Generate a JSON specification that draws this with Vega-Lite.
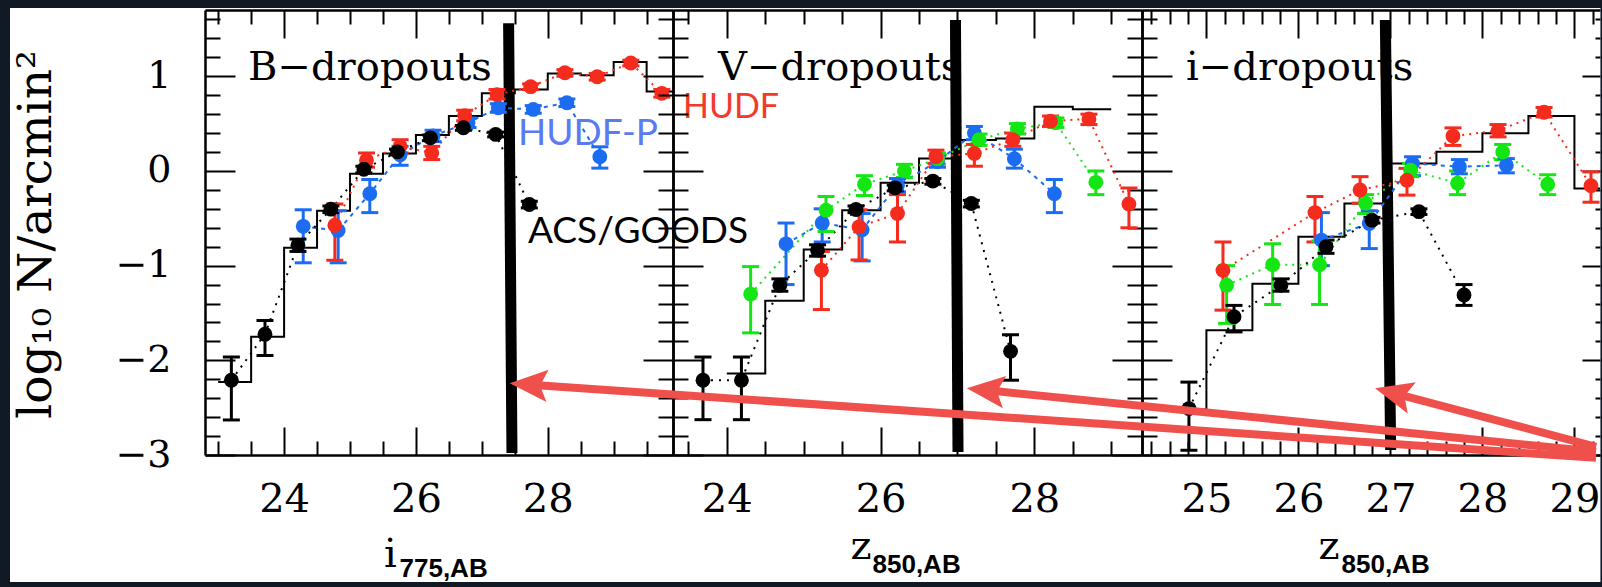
{
  "$schema": "https://vega.github.io/schema/vega-lite/v6.json",
  "background": "#111a24",
  "padding": {"left": 10, "top": 8, "right": 0, "bottom": 5},
  "spacing": 0,
  "bounds": "flush",
  "config": {
    "view": {"stroke": null},
    "axis": {"grid": false, "tickColor": "black", "tickWidth": 2, "domainColor": "black", "domainWidth": 2.5, "labelColor": "black", "titleColor": "black", "labelFont": "DejaVu Serif", "titleFont": "DejaVu Serif", "titleFontWeight": "normal", "labelFlush": false, "labelOverlap": false}
  },
  "datasets": {
    "pts": [
      {"p":1,"s":"HUDF-P","x":24.29,"y":-0.585,"lo":-0.97,"hi":-0.41},
      {"p":1,"s":"HUDF-P","x":24.82,"y":-0.63,"lo":-0.97,"hi":-0.42},
      {"p":1,"s":"HUDF-P","x":25.30,"y":-0.24,"lo":-0.44,"hi":-0.09},
      {"p":1,"s":"HUDF-P","x":25.76,"y":0.17,"lo":0.06,"hi":0.26},
      {"p":1,"s":"HUDF-P","x":26.26,"y":0.37,"lo":0.31,"hi":0.43},
      {"p":1,"s":"HUDF-P","x":26.79,"y":0.51,"lo":0.46,"hi":0.56},
      {"p":1,"s":"HUDF-P","x":27.25,"y":0.667,"lo":0.62,"hi":0.71},
      {"p":1,"s":"HUDF-P","x":27.78,"y":0.65,"lo":0.61,"hi":0.69},
      {"p":1,"s":"HUDF-P","x":28.29,"y":0.72,"lo":0.68,"hi":0.76},
      {"p":1,"s":"HUDF-P","x":28.79,"y":0.15,"lo":0.03,"hi":0.255},
      {"p":1,"s":"HUDF","x":24.77,"y":-0.573,"lo":-0.943,"hi":-0.35},
      {"p":1,"s":"HUDF","x":25.25,"y":0.114,"lo":0.04,"hi":0.19},
      {"p":1,"s":"HUDF","x":25.76,"y":0.26,"lo":0.19,"hi":0.33},
      {"p":1,"s":"HUDF","x":26.24,"y":0.19,"lo":0.12,"hi":0.26},
      {"p":1,"s":"HUDF","x":26.74,"y":0.585,"lo":0.53,"hi":0.64},
      {"p":1,"s":"HUDF","x":27.23,"y":0.807,"lo":0.76,"hi":0.86},
      {"p":1,"s":"HUDF","x":27.74,"y":0.89,"lo":0.86,"hi":0.92},
      {"p":1,"s":"HUDF","x":28.26,"y":1.037,"lo":1.0,"hi":1.07},
      {"p":1,"s":"HUDF","x":28.75,"y":0.995,"lo":0.96,"hi":1.03},
      {"p":1,"s":"HUDF","x":29.26,"y":1.14,"lo":1.11,"hi":1.17},
      {"p":1,"s":"HUDF","x":29.73,"y":0.82,"lo":0.78,"hi":0.86},
      {"p":1,"s":"ACS/GOODS","x":23.20,"y":-2.21,"lo":-2.63,"hi":-1.965},
      {"p":1,"s":"ACS/GOODS","x":23.71,"y":-1.725,"lo":-1.95,"hi":-1.58},
      {"p":1,"s":"ACS/GOODS","x":24.21,"y":-0.784,"lo":-0.85,"hi":-0.72},
      {"p":1,"s":"ACS/GOODS","x":24.71,"y":-0.404,"lo":-0.44,"hi":-0.37},
      {"p":1,"s":"ACS/GOODS","x":25.21,"y":0.018,"lo":-0.02,"hi":0.05},
      {"p":1,"s":"ACS/GOODS","x":25.72,"y":0.202,"lo":0.17,"hi":0.23},
      {"p":1,"s":"ACS/GOODS","x":26.22,"y":0.35,"lo":0.32,"hi":0.38},
      {"p":1,"s":"ACS/GOODS","x":26.72,"y":0.456,"lo":0.43,"hi":0.48},
      {"p":1,"s":"ACS/GOODS","x":27.21,"y":0.386,"lo":0.36,"hi":0.41},
      {"p":1,"s":"ACS/GOODS","x":27.72,"y":-0.354,"lo":-0.39,"hi":-0.32},
      {"p":2,"s":"HUDF-P","x":24.77,"y":-0.77,"lo":-1.2,"hi":-0.55},
      {"p":2,"s":"HUDF-P","x":25.24,"y":-0.55,"lo":-0.75,"hi":-0.4},
      {"p":2,"s":"HUDF-P","x":25.76,"y":-0.62,"lo":-0.95,"hi":-0.45},
      {"p":2,"s":"HUDF-P","x":26.22,"y":-0.15,"lo":-0.22,"hi":-0.08},
      {"p":2,"s":"HUDF-P","x":26.74,"y":0.1,"lo":0.04,"hi":0.16},
      {"p":2,"s":"HUDF-P","x":27.22,"y":0.4,"lo":0.33,"hi":0.47},
      {"p":2,"s":"HUDF-P","x":27.74,"y":0.13,"lo":0.03,"hi":0.23},
      {"p":2,"s":"HUDF-P","x":28.26,"y":-0.24,"lo":-0.44,"hi":-0.09},
      {"p":2,"s":"HUDF05","x":24.31,"y":-1.3,"lo":-1.71,"hi":-1.01},
      {"p":2,"s":"HUDF05","x":25.29,"y":-0.414,"lo":-0.64,"hi":-0.27},
      {"p":2,"s":"HUDF05","x":25.79,"y":-0.14,"lo":-0.26,"hi":-0.05},
      {"p":2,"s":"HUDF05","x":26.31,"y":0.0,"lo":-0.07,"hi":0.07},
      {"p":2,"s":"HUDF05","x":26.74,"y":0.13,"lo":0.07,"hi":0.19},
      {"p":2,"s":"HUDF05","x":27.28,"y":0.33,"lo":0.27,"hi":0.39},
      {"p":2,"s":"HUDF05","x":27.78,"y":0.445,"lo":0.39,"hi":0.5},
      {"p":2,"s":"HUDF05","x":28.28,"y":0.51,"lo":0.46,"hi":0.56},
      {"p":2,"s":"HUDF05","x":28.8,"y":-0.12,"lo":-0.25,"hi":0.0},
      {"p":2,"s":"HUDF","x":25.23,"y":-1.048,"lo":-1.464,"hi":-0.85},
      {"p":2,"s":"HUDF","x":25.72,"y":-0.59,"lo":-0.94,"hi":-0.41},
      {"p":2,"s":"HUDF","x":26.22,"y":-0.45,"lo":-0.75,"hi":-0.25},
      {"p":2,"s":"HUDF","x":26.72,"y":0.15,"lo":0.08,"hi":0.22},
      {"p":2,"s":"HUDF","x":27.22,"y":0.185,"lo":0.05,"hi":0.28},
      {"p":2,"s":"HUDF","x":27.72,"y":0.33,"lo":0.26,"hi":0.4},
      {"p":2,"s":"HUDF","x":28.21,"y":0.526,"lo":0.47,"hi":0.58},
      {"p":2,"s":"HUDF","x":28.71,"y":0.55,"lo":0.49,"hi":0.6},
      {"p":2,"s":"HUDF","x":29.23,"y":-0.35,"lo":-0.6,"hi":-0.18},
      {"p":2,"s":"ACS/GOODS","x":23.69,"y":-2.21,"lo":-2.627,"hi":-1.965},
      {"p":2,"s":"ACS/GOODS","x":24.19,"y":-2.21,"lo":-2.627,"hi":-1.965},
      {"p":2,"s":"ACS/GOODS","x":24.69,"y":-1.207,"lo":-1.27,"hi":-1.14},
      {"p":2,"s":"ACS/GOODS","x":25.18,"y":-0.837,"lo":-0.9,"hi":-0.78},
      {"p":2,"s":"ACS/GOODS","x":25.68,"y":-0.407,"lo":-0.44,"hi":-0.37},
      {"p":2,"s":"ACS/GOODS","x":26.19,"y":-0.178,"lo":-0.21,"hi":-0.15},
      {"p":2,"s":"ACS/GOODS","x":26.68,"y":-0.107,"lo":-0.14,"hi":-0.08},
      {"p":2,"s":"ACS/GOODS","x":27.18,"y":-0.344,"lo":-0.38,"hi":-0.31},
      {"p":2,"s":"ACS/GOODS","x":27.69,"y":-1.905,"lo":-2.21,"hi":-1.73},
      {"p":3,"s":"HUDF-P","x":26.25,"y":-0.73,"lo":-1.0,"hi":-0.44},
      {"p":3,"s":"HUDF-P","x":26.77,"y":-0.555,"lo":-0.82,"hi":-0.42},
      {"p":3,"s":"HUDF-P","x":27.24,"y":0.08,"lo":-0.05,"hi":0.15},
      {"p":3,"s":"HUDF-P","x":27.75,"y":0.045,"lo":-0.03,"hi":0.12},
      {"p":3,"s":"HUDF-P","x":28.26,"y":0.06,"lo":-0.02,"hi":0.13},
      {"p":3,"s":"HUDF05","x":25.22,"y":-1.207,"lo":-1.61,"hi":-1.0},
      {"p":3,"s":"HUDF05","x":25.72,"y":-0.99,"lo":-1.41,"hi":-0.77},
      {"p":3,"s":"HUDF05","x":26.23,"y":-0.99,"lo":-1.41,"hi":-0.74},
      {"p":3,"s":"HUDF05","x":26.73,"y":-0.34,"lo":-0.45,"hi":-0.25},
      {"p":3,"s":"HUDF05","x":27.22,"y":0.008,"lo":-0.06,"hi":0.08},
      {"p":3,"s":"HUDF05","x":27.73,"y":-0.13,"lo":-0.25,"hi":0.0},
      {"p":3,"s":"HUDF05","x":28.22,"y":0.2,"lo":0.12,"hi":0.28},
      {"p":3,"s":"HUDF05","x":28.71,"y":-0.14,"lo":-0.25,"hi":-0.04},
      {"p":3,"s":"HUDF","x":25.18,"y":-1.05,"lo":-1.47,"hi":-0.75},
      {"p":3,"s":"HUDF","x":26.18,"y":-0.44,"lo":-0.75,"hi":-0.27},
      {"p":3,"s":"HUDF","x":26.67,"y":-0.2,"lo":-0.34,"hi":-0.06},
      {"p":3,"s":"HUDF","x":27.18,"y":-0.097,"lo":-0.255,"hi":0.027},
      {"p":3,"s":"HUDF","x":27.68,"y":0.368,"lo":0.27,"hi":0.455},
      {"p":3,"s":"HUDF","x":28.17,"y":0.425,"lo":0.36,"hi":0.49},
      {"p":3,"s":"HUDF","x":28.67,"y":0.62,"lo":0.57,"hi":0.67},
      {"p":3,"s":"HUDF","x":29.18,"y":-0.155,"lo":-0.33,"hi":-0.01},
      {"p":3,"s":"ACS/GOODS","x":24.81,"y":-2.51,"lo":-2.95,"hi":-2.23},
      {"p":3,"s":"ACS/GOODS","x":25.3,"y":-1.54,"lo":-1.7,"hi":-1.42},
      {"p":3,"s":"ACS/GOODS","x":25.81,"y":-1.207,"lo":-1.27,"hi":-1.14},
      {"p":3,"s":"ACS/GOODS","x":26.3,"y":-0.8,"lo":-0.87,"hi":-0.73},
      {"p":3,"s":"ACS/GOODS","x":26.8,"y":-0.52,"lo":-0.55,"hi":-0.49},
      {"p":3,"s":"ACS/GOODS","x":27.31,"y":-0.43,"lo":-0.46,"hi":-0.4},
      {"p":3,"s":"ACS/GOODS","x":27.8,"y":-1.31,"lo":-1.42,"hi":-1.2}
    ],
    "hist": [
      {"p":1,"x":23.0,"y":-2.23},{"p":1,"x":23.5,"y":-1.75},{"p":1,"x":24.0,"y":-0.81},{"p":1,"x":24.5,"y":-0.42},
      {"p":1,"x":25.0,"y":-0.03},{"p":1,"x":25.5,"y":0.185},{"p":1,"x":26.0,"y":0.38},{"p":1,"x":26.5,"y":0.58},
      {"p":1,"x":27.0,"y":0.82},{"p":1,"x":27.5,"y":0.86},{"p":1,"x":28.0,"y":1.03},{"p":1,"x":28.5,"y":1.01},
      {"p":1,"x":29.0,"y":1.15},{"p":1,"x":29.5,"y":0.84},{"p":1,"x":29.9,"y":0.84},
      {"p":2,"x":24.0,"y":-2.14},{"p":2,"x":24.5,"y":-1.37},{"p":2,"x":25.0,"y":-0.83},{"p":2,"x":25.5,"y":-0.414},
      {"p":2,"x":26.0,"y":-0.125},{"p":2,"x":26.5,"y":0.132},{"p":2,"x":27.0,"y":0.326},{"p":2,"x":27.5,"y":0.344},
      {"p":2,"x":28.0,"y":0.678},{"p":2,"x":28.5,"y":0.653},{"p":2,"x":29.0,"y":0.653},
      {"p":3,"x":24.75,"y":-2.52},{"p":3,"x":25.0,"y":-1.683},{"p":3,"x":25.5,"y":-1.19},{"p":3,"x":26.0,"y":-0.696},
      {"p":3,"x":26.5,"y":-0.343},{"p":3,"x":27.0,"y":0.079},{"p":3,"x":27.5,"y":0.202},{"p":3,"x":28.0,"y":0.397},
      {"p":3,"x":28.5,"y":0.58},{"p":3,"x":29.0,"y":-0.185},{"p":3,"x":29.278,"y":-0.185}
    ],
    "vlines": [
      {"p":1,"x":27.406,"x2":27.457,"y":1.56,"y2":-2.979},
      {"p":2,"x":26.974,"x2":27.007,"y":1.594,"y2":-2.968},
      {"p":3,"x":26.945,"x2":27.003,"y":1.594,"y2":-2.947}
    ],
    "notes": [
      {"label":"HUDF","x":30.052,"y":0.56},
      {"label":"HUDF-P","x":27.549,"y":0.274},
      {"label":"ACS/GOODS","x":27.7,"y":-0.761}
    ],
    "arrows": [
      {"a":1,"x":29.235,"y":-3.03,"bx":17.73,"by":-2.263,"px":17.427,"py":-2.243,"ang":3.9},
      {"a":2,"x":29.235,"y":-2.966,"bx":22.698,"by":-2.325,"px":22.395,"py":-2.296,"ang":5.75},
      {"a":3,"x":29.235,"y":-2.913,"bx":27.127,"by":-2.37,"px":26.833,"py":-2.296,"ang":14.7}
    ]
  },
  "hconcat": [
    {
      "width": 468, "height": 445,
      "title": {"text": "B−dropouts", "orient": "top", "anchor": "start", "frame": "group", "offset": -112, "dx": 43, "baseline": "alphabetic", "font": "DejaVu Serif", "fontSize": 40, "fontWeight": "normal", "color": "black", "zindex": 1},
      "layer": [
        {"data": {"values": [{}]}, "mark": {"type": "rect", "color": "white", "clip": false},
         "encoding": {"x": {"datum": 19.842, "type": "quantitative", "scale": {"domain": [22.8, 29.9], "nice": false, "zero": false}, "axis": null}, "x2": {"datum": 43.97}, "y": {"datum": -4.3414, "type": "quantitative", "scale": {"domain": [-3, 1.7], "nice": false, "zero": false}, "axis": null}, "y2": {"datum": 1.7211}}},
        {"data": {"name": "hist"}, "transform": [{"filter": "datum.p == 1"}], "mark": {"type": "line", "interpolate": "step-after", "color": "black", "strokeWidth": 2},
         "encoding": {
           "x": {"field": "x", "type": "quantitative", "scale": {"domain": [22.8, 29.9], "nice": false, "zero": false},
                 "axis": {"orient": "bottom", "values": [23,23.5,24,24.5,25,25.5,26,26.5,27,27.5,28,28.5,29,29.5], "tickSize": {"condition": {"test": "datum.value % 2 === 0", "value": -28}, "value": -14}, "labels": false, "title": "i", "titleFontSize": 40, "titleX": 185, "titleY": 111, "titleAlign": "center", "titleBaseline": "alphabetic", "zindex": 1}},
           "y": {"field": "y", "type": "quantitative", "scale": {"domain": [-3, 1.7], "nice": false, "zero": false},
                 "axis": {"orient": "left", "values": [-3,-2.8,-2.6,-2.4,-2.2,-2,-1.8,-1.6,-1.4,-1.2,-1,-0.8,-0.6,-0.4,-0.2,0,0.2,0.4,0.6,0.8,1,1.2,1.4,1.6], "tickSize": {"condition": {"test": "datum.value % 1 === 0", "value": -30}, "value": -15}, "labels": false, "title": "log₁₀ N/arcmin²", "titleFontSize": 47, "titleX": -155, "titleY": 224, "titleAngle": 270, "titleAlign": "center", "titleBaseline": "alphabetic", "zindex": 1}}
         }},
        {"data": {"name": "vlines"}, "transform": [{"filter": "datum.p == 1"}], "mark": {"type": "rule", "color": "black", "strokeWidth": 11},
         "encoding": {
           "x": {"field": "x", "type": "quantitative", "scale": {"domain": [22.8, 29.9], "nice": false, "zero": false},
                 "axis": {"orient": "top", "values": [23,23.5,24,24.5,25,25.5,26,26.5,27,27.5,28,28.5,29,29.5], "tickSize": {"condition": {"test": "datum.value % 2 === 0", "value": -28}, "value": -14}, "labels": false, "title": null, "zindex": 1}},
           "x2": {"field": "x2"},
           "y": {"field": "y", "type": "quantitative", "scale": {"domain": [-3, 1.7], "nice": false, "zero": false},
                 "axis": {"orient": "right", "values": [-3,-2.8,-2.6,-2.4,-2.2,-2,-1.8,-1.6,-1.4,-1.2,-1,-0.8,-0.6,-0.4,-0.2,0,0.2,0.4,0.6,0.8,1,1.2,1.4,1.6], "tickSize": {"condition": {"test": "datum.value % 1 === 0", "value": -30}, "value": -15}, "labels": false, "title": null, "zindex": 1}},
           "y2": {"field": "y2"}
         }},
        {"data": {"name": "pts"}, "transform": [{"filter": "datum.p == 1"}], "mark": {"type": "line", "strokeWidth": 2},
         "encoding": {"x": {"field": "x", "type": "quantitative", "axis": null}, "y": {"field": "y", "type": "quantitative", "axis": null},
           "color": {"field": "s", "type": "nominal", "scale": {"domain": ["HUDF-P","HUDF05","HUDF","ACS/GOODS"], "range": ["#1c6cf2","#14e614","#f42b1d","#000000"]}, "legend": null},
           "strokeDash": {"field": "s", "type": "nominal", "scale": {"domain": ["HUDF-P","HUDF05","HUDF","ACS/GOODS"], "range": [[4,5],[2,5],[2,5],[2,6]]}, "legend": null}}},
        {"data": {"name": "pts"}, "transform": [{"filter": "datum.p == 1"}], "mark": {"type": "rule", "strokeWidth": 3},
         "encoding": {"x": {"field": "x", "type": "quantitative", "axis": null}, "y": {"field": "lo", "type": "quantitative", "axis": null}, "y2": {"field": "hi"},
           "color": {"field": "s", "type": "nominal", "legend": null}}},
        {"data": {"name": "pts"}, "transform": [{"filter": "datum.p == 1"}], "mark": {"type": "tick", "orient": "horizontal", "thickness": 3, "size": 17, "opacity": 1},
         "encoding": {"x": {"field": "x", "type": "quantitative", "axis": null}, "y": {"field": "lo", "type": "quantitative", "axis": null}, "color": {"field": "s", "type": "nominal", "legend": null}}},
        {"data": {"name": "pts"}, "transform": [{"filter": "datum.p == 1"}], "mark": {"type": "tick", "orient": "horizontal", "thickness": 3, "size": 17, "opacity": 1},
         "encoding": {"x": {"field": "x", "type": "quantitative", "axis": null}, "y": {"field": "hi", "type": "quantitative", "axis": null}, "color": {"field": "s", "type": "nominal", "legend": null}}},
        {"data": {"name": "pts"}, "transform": [{"filter": "datum.p == 1"}], "mark": {"type": "circle", "size": 220, "opacity": 1},
         "encoding": {"x": {"field": "x", "type": "quantitative",
                 "axis": {"orient": "bottom", "values": [24, 26, 28], "format": "d", "ticks": false, "tickSize": 0, "domain": false, "labelFontSize": 40, "labelPadding": 56.7, "labelBaseline": "alphabetic", "title": "775,AB", "titleFont": "Liberation Sans", "titleFontWeight": "bold", "titleFontSize": 26, "titleX": 194, "titleY": 121, "titleAlign": "left", "titleBaseline": "alphabetic", "zindex": 1}},
           "y": {"field": "y", "type": "quantitative",
                 "axis": {"orient": "left", "values": [-3, -2, -1, 0, 1], "format": "d", "ticks": false, "tickSize": 0, "domain": false, "labelFontSize": 38, "labelPadding": 34, "title": null, "zindex": 1}},
           "color": {"field": "s", "type": "nominal", "legend": null}}},
        {"data": {"name": "notes"}, "transform": [{"filter": "datum.label == 'HUDF'"}], "mark": {"type": "text", "font": "Lato", "fontSize": 34, "align": "left", "baseline": "alphabetic", "clip": false, "color": "#f23a2c"},
         "encoding": {"x": {"field": "x", "type": "quantitative", "axis": null}, "y": {"field": "y", "type": "quantitative", "axis": null}, "text": {"field": "label"}}},
        {"data": {"name": "notes"}, "transform": [{"filter": "datum.label == 'HUDF-P'"}], "mark": {"type": "text", "font": "Lato", "fontSize": 37, "align": "left", "baseline": "alphabetic", "clip": false, "color": "#5a7bf2"},
         "encoding": {"x": {"field": "x", "type": "quantitative", "axis": null}, "y": {"field": "y", "type": "quantitative", "axis": null}, "text": {"field": "label"}}},
        {"data": {"name": "notes"}, "transform": [{"filter": "datum.label == 'ACS/GOODS'"}], "mark": {"type": "text", "font": "Lato", "fontSize": 37, "align": "left", "baseline": "alphabetic", "clip": false, "color": "#000000"},
         "encoding": {"x": {"field": "x", "type": "quantitative", "axis": null}, "y": {"field": "y", "type": "quantitative", "axis": null}, "text": {"field": "label"}}}
      ],
      "resolve": {"axis": {"x": "independent", "y": "independent"}}
    },
    {
      "width": 469, "height": 445,
      "title": {"text": "V−dropouts", "orient": "top", "anchor": "start", "frame": "group", "offset": -111, "dx": 45, "baseline": "alphabetic", "font": "DejaVu Serif", "fontSize": 40, "fontWeight": "normal", "color": "black"},
      "layer": [
        {"data": {"name": "hist"}, "transform": [{"filter": "datum.p == 2"}], "mark": {"type": "line", "interpolate": "step-after", "color": "black", "strokeWidth": 2},
         "encoding": {
           "x": {"field": "x", "type": "quantitative", "scale": {"domain": [23.3, 29.4], "nice": false, "zero": false},
                 "axis": {"orient": "bottom", "values": [23.5,24,24.5,25,25.5,26,26.5,27,27.5,28,28.5,29], "tickSize": {"condition": {"test": "datum.value % 2 === 0", "value": -28}, "value": -14}, "labels": false, "title": "z", "titleFontSize": 40, "titleX": 177, "titleY": 103, "titleAlign": "left", "titleBaseline": "alphabetic"}},
           "y": {"field": "y", "type": "quantitative", "scale": {"domain": [-3, 1.7], "nice": false, "zero": false},
                 "axis": {"orient": "left", "values": [-3,-2.8,-2.6,-2.4,-2.2,-2,-1.8,-1.6,-1.4,-1.2,-1,-0.8,-0.6,-0.4,-0.2,0,0.2,0.4,0.6,0.8,1,1.2,1.4,1.6], "tickSize": {"condition": {"test": "datum.value % 1 === 0", "value": -30}, "value": -15}, "labels": false, "title": null}}
         }},
        {"data": {"name": "vlines"}, "transform": [{"filter": "datum.p == 2"}], "mark": {"type": "rule", "color": "black", "strokeWidth": 11},
         "encoding": {
           "x": {"field": "x", "type": "quantitative", "scale": {"domain": [23.3, 29.4], "nice": false, "zero": false},
                 "axis": {"orient": "top", "values": [23.5,24,24.5,25,25.5,26,26.5,27,27.5,28,28.5,29], "tickSize": {"condition": {"test": "datum.value % 2 === 0", "value": -28}, "value": -14}, "labels": false, "title": null}},
           "x2": {"field": "x2"},
           "y": {"field": "y", "type": "quantitative", "scale": {"domain": [-3, 1.7], "nice": false, "zero": false},
                 "axis": {"orient": "right", "values": [-3,-2.8,-2.6,-2.4,-2.2,-2,-1.8,-1.6,-1.4,-1.2,-1,-0.8,-0.6,-0.4,-0.2,0,0.2,0.4,0.6,0.8,1,1.2,1.4,1.6], "tickSize": {"condition": {"test": "datum.value % 1 === 0", "value": -30}, "value": -15}, "labels": false, "title": null}},
           "y2": {"field": "y2"}
         }},
        {"data": {"name": "pts"}, "transform": [{"filter": "datum.p == 2"}], "mark": {"type": "line", "strokeWidth": 2},
         "encoding": {"x": {"field": "x", "type": "quantitative", "axis": null}, "y": {"field": "y", "type": "quantitative", "axis": null},
           "color": {"field": "s", "type": "nominal", "scale": {"domain": ["HUDF-P","HUDF05","HUDF","ACS/GOODS"], "range": ["#1c6cf2","#14e614","#f42b1d","#000000"]}, "legend": null},
           "strokeDash": {"field": "s", "type": "nominal", "scale": {"domain": ["HUDF-P","HUDF05","HUDF","ACS/GOODS"], "range": [[4,5],[2,5],[2,5],[2,6]]}, "legend": null}}},
        {"data": {"name": "pts"}, "transform": [{"filter": "datum.p == 2"}], "mark": {"type": "rule", "strokeWidth": 3},
         "encoding": {"x": {"field": "x", "type": "quantitative", "axis": null}, "y": {"field": "lo", "type": "quantitative", "axis": null}, "y2": {"field": "hi"},
           "color": {"field": "s", "type": "nominal", "legend": null}}},
        {"data": {"name": "pts"}, "transform": [{"filter": "datum.p == 2"}], "mark": {"type": "tick", "orient": "horizontal", "thickness": 3, "size": 17, "opacity": 1},
         "encoding": {"x": {"field": "x", "type": "quantitative", "axis": null}, "y": {"field": "lo", "type": "quantitative", "axis": null}, "color": {"field": "s", "type": "nominal", "legend": null}}},
        {"data": {"name": "pts"}, "transform": [{"filter": "datum.p == 2"}], "mark": {"type": "tick", "orient": "horizontal", "thickness": 3, "size": 17, "opacity": 1},
         "encoding": {"x": {"field": "x", "type": "quantitative", "axis": null}, "y": {"field": "hi", "type": "quantitative", "axis": null}, "color": {"field": "s", "type": "nominal", "legend": null}}},
        {"data": {"name": "pts"}, "transform": [{"filter": "datum.p == 2"}], "mark": {"type": "circle", "size": 220, "opacity": 1},
         "encoding": {"x": {"field": "x", "type": "quantitative",
                 "axis": {"orient": "bottom", "values": [24, 26, 28], "format": "d", "ticks": false, "tickSize": 0, "domain": false, "labelFontSize": 40, "labelPadding": 56.7, "labelBaseline": "alphabetic", "title": "850,AB", "titleFont": "Liberation Sans", "titleFontWeight": "bold", "titleFontSize": 26, "titleX": 199, "titleY": 117, "titleAlign": "left", "titleBaseline": "alphabetic"}},
           "y": {"field": "y", "type": "quantitative", "axis": null}, "color": {"field": "s", "type": "nominal", "legend": null}}}
      ],
      "resolve": {"axis": {"x": "independent", "y": "independent"}}
    },
    {
      "width": 458, "height": 445,
      "title": {"text": "i−dropouts", "orient": "top", "anchor": "start", "frame": "group", "offset": -111, "dx": 44, "baseline": "alphabetic", "font": "DejaVu Serif", "fontSize": 40, "fontWeight": "normal", "color": "black"},
      "layer": [
        {"data": {"name": "hist"}, "transform": [{"filter": "datum.p == 3"}], "mark": {"type": "line", "interpolate": "step-after", "color": "black", "strokeWidth": 2},
         "encoding": {
           "x": {"field": "x", "type": "quantitative", "scale": {"domain": [24.3, 29.278], "nice": false, "zero": false},
                 "axis": {"orient": "bottom", "values": [24.4,24.6,24.8,25,25.2,25.4,25.6,25.8,26,26.2,26.4,26.6,26.8,27,27.2,27.4,27.6,27.8,28,28.2,28.4,28.6,28.8,29,29.2], "tickSize": {"condition": {"test": "datum.value % 1 === 0", "value": -28}, "value": -14}, "labels": false, "title": "z", "titleFontSize": 40, "titleX": 176, "titleY": 103, "titleAlign": "left", "titleBaseline": "alphabetic"}},
           "y": {"field": "y", "type": "quantitative", "scale": {"domain": [-3, 1.7], "nice": false, "zero": false},
                 "axis": {"orient": "left", "values": [-3,-2.8,-2.6,-2.4,-2.2,-2,-1.8,-1.6,-1.4,-1.2,-1,-0.8,-0.6,-0.4,-0.2,0,0.2,0.4,0.6,0.8,1,1.2,1.4,1.6], "tickSize": {"condition": {"test": "datum.value % 1 === 0", "value": -30}, "value": -15}, "labels": false, "title": null}}
         }},
        {"data": {"name": "vlines"}, "transform": [{"filter": "datum.p == 3"}], "mark": {"type": "rule", "color": "black", "strokeWidth": 11},
         "encoding": {
           "x": {"field": "x", "type": "quantitative", "scale": {"domain": [24.3, 29.278], "nice": false, "zero": false},
                 "axis": {"orient": "top", "values": [24.4,24.6,24.8,25,25.2,25.4,25.6,25.8,26,26.2,26.4,26.6,26.8,27,27.2,27.4,27.6,27.8,28,28.2,28.4,28.6,28.8,29,29.2], "tickSize": {"condition": {"test": "datum.value % 1 === 0", "value": -28}, "value": -14}, "labels": false, "title": null}},
           "x2": {"field": "x2"},
           "y": {"field": "y", "type": "quantitative", "scale": {"domain": [-3, 1.7], "nice": false, "zero": false},
                 "axis": {"orient": "right", "domain": false, "values": [-3,-2.8,-2.6,-2.4,-2.2,-2,-1.8,-1.6,-1.4,-1.2,-1,-0.8,-0.6,-0.4,-0.2,0,0.2,0.4,0.6,0.8,1,1.2,1.4,1.6], "tickSize": {"condition": {"test": "datum.value % 1 === 0", "value": -18}, "value": -5}, "labels": false, "title": null}},
           "y2": {"field": "y2"}
         }},
        {"data": {"name": "pts"}, "transform": [{"filter": "datum.p == 3"}], "mark": {"type": "line", "strokeWidth": 2},
         "encoding": {"x": {"field": "x", "type": "quantitative", "axis": null}, "y": {"field": "y", "type": "quantitative", "axis": null},
           "color": {"field": "s", "type": "nominal", "scale": {"domain": ["HUDF-P","HUDF05","HUDF","ACS/GOODS"], "range": ["#1c6cf2","#14e614","#f42b1d","#000000"]}, "legend": null},
           "strokeDash": {"field": "s", "type": "nominal", "scale": {"domain": ["HUDF-P","HUDF05","HUDF","ACS/GOODS"], "range": [[4,5],[2,5],[2,5],[2,6]]}, "legend": null}}},
        {"data": {"name": "pts"}, "transform": [{"filter": "datum.p == 3"}], "mark": {"type": "rule", "strokeWidth": 3},
         "encoding": {"x": {"field": "x", "type": "quantitative", "axis": null}, "y": {"field": "lo", "type": "quantitative", "axis": null}, "y2": {"field": "hi"},
           "color": {"field": "s", "type": "nominal", "legend": null}}},
        {"data": {"name": "pts"}, "transform": [{"filter": "datum.p == 3"}], "mark": {"type": "tick", "orient": "horizontal", "thickness": 3, "size": 17, "opacity": 1},
         "encoding": {"x": {"field": "x", "type": "quantitative", "axis": null}, "y": {"field": "lo", "type": "quantitative", "axis": null}, "color": {"field": "s", "type": "nominal", "legend": null}}},
        {"data": {"name": "pts"}, "transform": [{"filter": "datum.p == 3"}], "mark": {"type": "tick", "orient": "horizontal", "thickness": 3, "size": 17, "opacity": 1},
         "encoding": {"x": {"field": "x", "type": "quantitative", "axis": null}, "y": {"field": "hi", "type": "quantitative", "axis": null}, "color": {"field": "s", "type": "nominal", "legend": null}}},
        {"data": {"name": "pts"}, "transform": [{"filter": "datum.p == 3"}], "mark": {"type": "circle", "size": 220, "opacity": 1},
         "encoding": {"x": {"field": "x", "type": "quantitative",
                 "axis": {"orient": "bottom", "values": [25, 26, 27, 28, 29], "format": "d", "ticks": false, "tickSize": 0, "domain": false, "labelFontSize": 40, "labelPadding": 56.7, "labelBaseline": "alphabetic", "title": "850,AB", "titleFont": "Liberation Sans", "titleFontWeight": "bold", "titleFontSize": 26, "titleX": 199, "titleY": 117, "titleAlign": "left", "titleBaseline": "alphabetic"}},
           "y": {"field": "y", "type": "quantitative", "axis": null}, "color": {"field": "s", "type": "nominal", "legend": null}}},
        {"data": {"name": "arrows"}, "mark": {"type": "rule", "color": "#f0504b", "strokeWidth": 8, "clip": false},
         "encoding": {"x": {"field": "x", "type": "quantitative", "axis": null}, "x2": {"field": "bx"}, "y": {"field": "y", "type": "quantitative", "axis": null}, "y2": {"field": "by"}}},
        {"data": {"name": "arrows"}, "mark": {"type": "point", "shape": "M0,0L2,-0.85L1.6,0L2,0.85Z", "filled": true, "opacity": 1, "color": "#f0504b", "size": 1444, "clip": false},
         "encoding": {"x": {"field": "px", "type": "quantitative", "axis": null}, "y": {"field": "py", "type": "quantitative", "axis": null}, "angle": {"field": "ang", "type": "quantitative", "scale": null}}}
      ],
      "resolve": {"axis": {"x": "independent", "y": "independent"}}
    }
  ]
}
